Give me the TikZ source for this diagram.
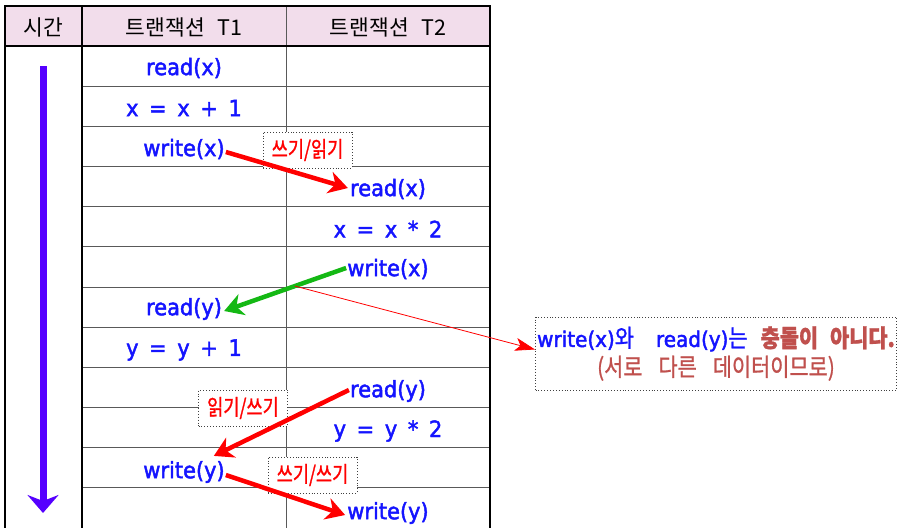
\documentclass[tikz,border=0pt]{standalone}
\usepackage{fontspec}
\usetikzlibrary{arrows.meta}
\setmainfont[WordSpace=1.6]{DejaVu Sans}
\newfontfamily\kr[WordSpace=2.6]{Noto Sans CJK KR}
\newfontfamily\krn[FakeStretch=0.8,FakeBold=1.2,WordSpace=2.6]{Noto Sans CJK KR}
\newfontfamily\krc[FakeStretch=0.85,FakeBold=1,WordSpace=2.6]{Noto Sans CJK KR}
\newfontfamily\lat[FakeBold=2,FakeStretch=0.93,WordSpace=1.6]{DejaVu Sans}
\definecolor{hdr}{HTML}{F2DDEB}
\definecolor{txtblue}{HTML}{1414FF}
\definecolor{dred}{HTML}{C0504D}
\definecolor{tviolet}{HTML}{5500FF}
\definecolor{arrred}{HTML}{FF0000}
\definecolor{arrgreen}{HTML}{14B814}
\newcommand{\kc}{\krc\fontsize{24.5}{30}\selectfont}
\newcommand{\lc}{\lat\fontsize{21.5}{30}\selectfont}
\tikzset{
  hd/.style={font=\kr\fontsize{21.5}{24}\selectfont, text=black, inner sep=1pt},
  op/.style={font=\lat\fontsize{22.5}{26}\selectfont, text=txtblue, inner sep=1pt},
  tag/.style={draw=black!75, dotted, line width=0.9pt, fill=white, text=arrred,
              font=\krn\fontsize{22}{24}\selectfont, minimum width=89pt, minimum height=36pt, inner sep=1pt},
  redarr/.style={draw=arrred, line width=4.5pt, -{Stealth[length=19pt,width=22pt,inset=6pt]}},
  grnarr/.style={draw=arrgreen, line width=4.5pt, -{Stealth[length=19pt,width=22pt,inset=6pt]}},
  thinarr/.style={draw=arrred, line width=0.8pt, -{Stealth[length=20pt,width=13pt,inset=5pt]}},
  gridl/.style={draw=black!65, line width=1pt},
  outl/.style={draw=black, line width=1.2pt}
}
\begin{document}
\begin{tikzpicture}[x=1pt,y=-1pt]
\useasboundingbox (0,0) rectangle (898,528);
% header
\fill[hdr] (5,6) rectangle (490,46);
% inner grid
\foreach \k in {1,...,11} {
  \draw[gridl] (82,{46+40.17*\k}) -- (490,{46+40.17*\k});
}
\draw[gridl] (286,6) -- (286,528);
\draw[outl] (82,6) -- (82,528);
\draw[outl] (5,46) -- (490,46);
\draw[outl] (5,528) -- (5,6) -- (490,6) -- (490,528);
% headers
\node[hd] (h0) at (43,27) {시간};
\node[hd] (h1) at (184,27) {트랜잭션 T1};
\node[hd] (h2) at (388,27) {트랜잭션 T2};
% time arrow
\coordinate (ta) at (43,66);
\coordinate (tb) at (43,513);
\draw[draw=tviolet, line width=7pt, -{Stealth[length=18pt,width=31pt,inset=6pt]}] (ta) -- (tb);
% operations
\node[op] (a1) at (184,68) {read(x)};
\node[op] (a2) at (184,108) {x = x + 1};
\node[op] (a3) at (184,149) {write(x)};
\node[op] (b4) at (388,189) {read(x)};
\node[op] (b5) at (388,229) {x = x * 2};
\node[op] (b6) at (388,269) {write(x)};
\node[op] (a7) at (184,309) {read(y)};
\node[op] (a8) at (184,350) {y = y + 1};
\node[op] (b9) at (388,391) {read(y)};
\node[op] (b10) at (388,431) {y = y * 2};
\node[op] (a11) at (184,472) {write(y)};
\node[op] (b12) at (388,513) {write(y)};
% tags
\node[tag] (t1) at (307.5,150) {쓰기/읽기};
\node[tag] (t2) at (243,408) {읽기/쓰기};
\node[tag] (t3) at (312.5,475) {쓰기/쓰기};
% callout
\node[draw=black!75, dotted, line width=0.9pt, fill=white, minimum width=361pt, minimum height=73pt,
      align=center, inner sep=1pt, font=\fontsize{20}{29}\selectfont] (c) at (716,353.5)
  {\textcolor{txtblue}{\lc write(x)\kc 와\hspace{22pt}\lc read(y)\kc 는}\hspace{13pt}\textcolor{dred}{\kc\bfseries 충돌이\hspace{12pt}아니다.}\\
   \textcolor{dred}{\kc (서로\hspace{16pt}다른\hspace{16pt}데이터이므로)}};
% arrows
\draw[redarr] ([yshift=-3pt]a3.east) -- ([xshift=-1pt,yshift=1pt]b4.west);
\draw[grnarr] ([yshift=1pt]b6.west) -- coordinate[pos=0.42] (gm) ([xshift=1pt,yshift=-2pt]a7.east);
\draw[thinarr] (gm) -- ([yshift=4pt]c.west);
\draw[redarr] ([yshift=1pt]b9.west) -- ([xshift=-12pt,yshift=4pt]a11.north east);
\draw[redarr] ([yshift=-3pt]a11.east) -- ([xshift=-1pt,yshift=-2pt]b12.west);
\end{tikzpicture}
\end{document}
